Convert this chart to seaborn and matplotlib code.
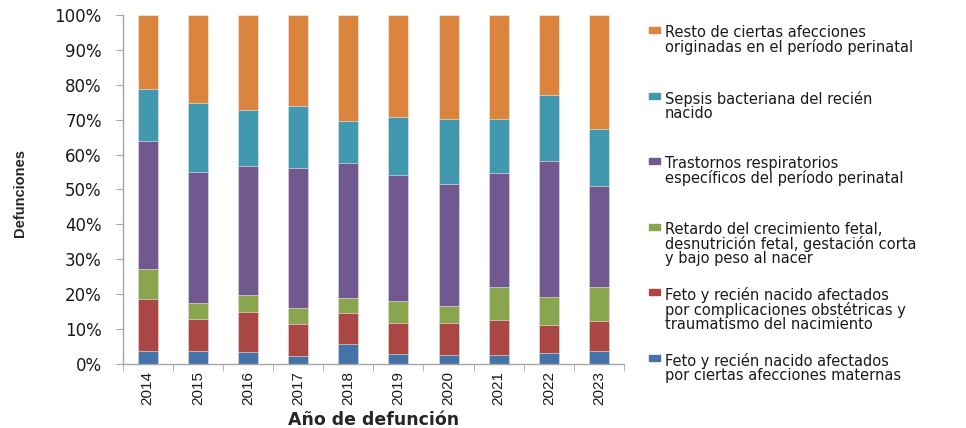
import numpy as np
import pandas as pd
import matplotlib
matplotlib.use('Agg')
import matplotlib.pyplot as plt
import seaborn as sns
from matplotlib.patches import Rectangle
from matplotlib.ticker import FuncFormatter, FixedLocator

# %%

# Data: share of deaths (%) by cause and year

years = ['2014', '2015', '2016', '2017', '2018',
         '2019', '2020', '2021', '2022', '2023']

materna = [3.6, 3.6, 3.3, 2.1, 5.6, 2.9, 2.6, 2.6, 3.1, 3.6]
obstetrica = [15.0, 9.3, 11.5, 9.2, 8.9, 8.8, 9.1, 9.9, 8.1, 8.6]
retardo = [8.6, 4.6, 4.8, 4.8, 4.5, 6.4, 4.8, 9.4, 7.9, 9.8]
respiratorios = [36.6, 37.5, 37.0, 39.9, 38.6, 35.9, 35.0, 32.7, 39.0, 29.0]
sepsis = [15.0, 19.8, 16.1, 17.9, 11.9, 16.7, 18.8, 15.7, 19.1, 16.3]
resto = [21.2, 25.2, 27.3, 26.1, 30.5, 29.3, 29.7, 29.7, 22.8, 32.7]

labels = ['Feto y recién nacido afectados\npor ciertas afecciones maternas',
          'Feto y recién nacido afectados\npor complicaciones obstétricas y\ntraumatismo del nacimiento',
          'Retardo del crecimiento fetal,\ndesnutrición fetal, gestación corta\ny bajo peso al nacer',
          'Trastornos respiratorios\nespecíficos del período perinatal',
          'Sepsis bacteriana del recién\nnacido',
          'Resto de ciertas afecciones\noriginadas en el período perinatal']

colors = ['#4572A7', '#AA4643', '#89A54E', '#71588F', '#4198AF', '#DB843D']

# %%

df = pd.DataFrame({'year': years,
                   labels[0]: materna, labels[1]: obstetrica,
                   labels[2]: retardo, labels[3]: respiratorios,
                   labels[4]: sepsis, labels[5]: resto})

# Cumulative totals, so each layer is drawn as a bar from zero
cum = df[labels].cumsum(axis=1)

# %%

sns.set_style('white')
plt.rcParams['font.family'] = ['DejaVu Sans']

fig = plt.figure(figsize=(9.66, 4.28), dpi=100)
ax = fig.add_axes([0.127, 0.150, 0.519, 0.815])

# Draw the tallest layer first, the smaller ones on top
for name, color in zip(labels[::-1], colors[::-1]):
    sns.barplot(x=df['year'], y=cum[name], color=color, width=0.4,
                order=years, edgecolor='#f2f2f2', linewidth=0.4,
                saturation=1, ax=ax)

ax.set_xlim(-0.5, 9.5)
ax.set_ylim(0, 100)

# Axes styling
for side in ['top', 'right']:
    ax.spines[side].set_visible(False)
for side in ['left', 'bottom']:
    ax.spines[side].set_color('#a6a6a6')
    ax.spines[side].set_linewidth(1.0)

ax.set_yticks(np.arange(0, 101, 10))
ax.yaxis.set_major_formatter(FuncFormatter(lambda v, p: '%d%%' % v))
ax.tick_params(axis='y', left=True, length=5, color='#a6a6a6',
               labelsize=12, pad=10, labelcolor='#1a1a1a')

ax.tick_params(axis='x', which='major', length=0, labelsize=11,
               labelrotation=90, pad=5, labelcolor='#1a1a1a')
ax.xaxis.set_minor_locator(FixedLocator(np.arange(-0.5, 10, 1)))
ax.tick_params(axis='x', which='minor', bottom=True, length=5,
               color='#a6a6a6')
for t in ax.get_xticklabels():
    t.set_family(['Liberation Sans', 'DejaVu Sans'])

ax.set_xlabel('Año de defunción', fontsize=12.5, fontweight='bold')
ax.set_ylabel('Defunciones', fontsize=10.5, fontweight='bold',
              family=['Liberation Sans Narrow', 'Liberation Sans'])
ax.xaxis.set_label_coords(0.5, -0.135)
ax.yaxis.set_label_coords(-0.19, 0.49)

# %%

# Legend, top entry first, one square per entry
tops = [25, 91, 156, 222, 287, 353]
for top, name, color in zip(tops, labels[::-1], colors[::-1]):
    fig.patches.append(Rectangle((649 / 966, 1 - (top + 8) / 428),
                                 11 / 966, 6 / 428, color=color,
                                 transform=fig.transFigure))
    fig.text(665 / 966, 1 - top / 428, name, fontsize=10.5,
             va='top', ha='left', linespacing=0.92, color='#1a1a1a')

fig.savefig('out.png', dpi=100)
